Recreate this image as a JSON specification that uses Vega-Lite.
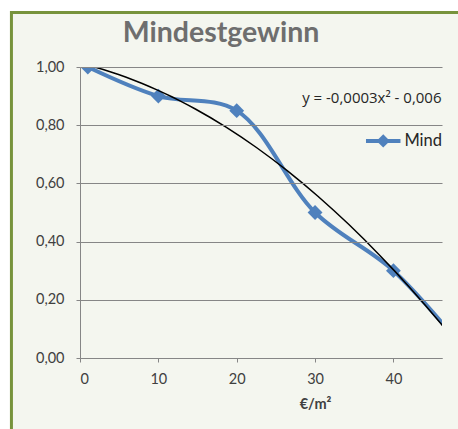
{
  "$schema": "https://vega.github.io/schema/vega-lite/v6.json",
  "width": 362,
  "height": 291,
  "autosize": {"type": "none"},
  "padding": {"left": 80, "top": 67, "right": 16, "bottom": 71},
  "background": "#ffffff",
  "config": {
    "font": "Lato",
    "locale": {"number": {"decimal": ",", "thousands": ".", "grouping": [3], "currency": ["", "\u00a0€"]}},
    "view": {"stroke": null},
    "axis": {
      "domainColor": "#868686",
      "tickColor": "#868686",
      "tickSize": 4,
      "labelColor": "#404040",
      "labelFont": "Lato",
      "labelFontSize": 14.5,
      "titleFont": "Lato",
      "titleFontSize": 14.5,
      "titleFontWeight": "bold",
      "titleColor": "#404040"
    },
    "axisX": {"grid": false, "labelPadding": 10, "titlePadding": 12, "titleX": 235},
    "axisY": {"grid": true, "gridColor": "#868686", "labelPadding": 12}
  },
  "title": {
    "text": "Mindestgewinn",
    "font": "Lato",
    "fontSize": 28.5,
    "fontWeight": "bold",
    "color": "#6e6e6e",
    "frame": "group",
    "baseline": "alphabetic",
    "dx": -40,
    "offset": -59
  },
  "datasets": {
    "mindestgewinn": [
      {"preis": 1, "anteil": 1.0},
      {"preis": 10, "anteil": 0.9},
      {"preis": 20, "anteil": 0.85},
      {"preis": 30, "anteil": 0.5},
      {"preis": 40, "anteil": 0.3},
      {"preis": 50, "anteil": 0.0}
    ],
    "diagrammflaeche": [
      {"links": -8.75, "rechts": 70, "oben": 1.187, "unten": -1}
    ],
    "gleichung": [
      {"preis": 28.35, "anteil": 0.893, "text": "y = -0,0003x² - 0,0066x + 1,0131"}
    ],
    "legendenlinie": [
      {"preis": 36.5, "anteil": 0.746},
      {"preis": 40.9, "anteil": 0.746}
    ],
    "legendenpunkt": [
      {"preis": 38.7, "anteil": 0.746, "text": "Mindestgewinn", "textpos": 41.4}
    ]
  },
  "layer": [
    {
      "data": {"name": "diagrammflaeche"},
      "mark": {"type": "rect", "fill": "#f4f6ef", "stroke": "#77933c", "strokeWidth": 3},
      "encoding": {
        "x": {"field": "links", "type": "quantitative", "title": "€/m²", "scale": {"domain": [0, 46.2], "nice": false}},
        "x2": {"field": "rechts"},
        "y": {"field": "oben", "type": "quantitative", "title": null, "scale": {"domain": [0, 1], "nice": false}},
        "y2": {"field": "unten"}
      }
    },
    {
      "data": {"name": "mindestgewinn"},
      "mark": {"type": "line", "interpolate": "catmull-rom", "color": "#4f81bd", "strokeWidth": 4, "clip": true},
      "encoding": {
        "x": {"field": "preis", "type": "quantitative", "title": "€/m²", "scale": {"domain": [0, 46.2], "nice": false}, "axis": {"values": [0, 10, 20, 30, 40], "format": "d", "zindex": 1}},
        "y": {"field": "anteil", "type": "quantitative", "title": null, "scale": {"domain": [0, 1], "nice": false}, "axis": {"values": [0, 0.2, 0.4, 0.6, 0.8, 1], "format": ".2f", "zindex": 1}}
      }
    },
    {
      "data": {"name": "mindestgewinn"},
      "mark": {"type": "point", "shape": "diamond", "filled": true, "size": 220, "color": "#4f81bd", "opacity": 1, "clip": true},
      "encoding": {
        "x": {"field": "preis", "type": "quantitative", "title": "€/m²"},
        "y": {"field": "anteil", "type": "quantitative", "title": null}
      }
    },
    {
      "data": {"name": "mindestgewinn"},
      "transform": [{"regression": "anteil", "on": "preis", "method": "poly", "order": 2}],
      "mark": {"type": "line", "color": "#000000", "strokeWidth": 1.5, "clip": true},
      "encoding": {
        "x": {"field": "preis", "type": "quantitative", "title": "€/m²"},
        "y": {"field": "anteil", "type": "quantitative", "title": null}
      }
    },
    {
      "data": {"name": "gleichung"},
      "mark": {"type": "text", "align": "left", "baseline": "middle", "font": "Open Sans", "fontSize": 15, "color": "#262626", "clip": true},
      "encoding": {
        "x": {"field": "preis", "type": "quantitative", "title": "€/m²"},
        "y": {"field": "anteil", "type": "quantitative", "title": null},
        "text": {"field": "text"}
      }
    },
    {
      "data": {"name": "legendenlinie"},
      "mark": {"type": "line", "color": "#4f81bd", "strokeWidth": 4, "clip": true},
      "encoding": {
        "x": {"field": "preis", "type": "quantitative", "title": "€/m²"},
        "y": {"field": "anteil", "type": "quantitative", "title": null}
      }
    },
    {
      "data": {"name": "legendenpunkt"},
      "mark": {"type": "point", "shape": "diamond", "filled": true, "size": 180, "color": "#4f81bd", "opacity": 1, "clip": true},
      "encoding": {
        "x": {"field": "preis", "type": "quantitative", "title": "€/m²"},
        "y": {"field": "anteil", "type": "quantitative", "title": null}
      }
    },
    {
      "data": {"name": "legendenpunkt"},
      "mark": {"type": "text", "align": "left", "baseline": "middle", "font": "Lato", "fontSize": 16.5, "color": "#262626", "clip": true},
      "encoding": {
        "x": {"field": "textpos", "type": "quantitative", "title": "€/m²"},
        "y": {"field": "anteil", "type": "quantitative", "title": null},
        "text": {"field": "text"}
      }
    }
  ]
}
